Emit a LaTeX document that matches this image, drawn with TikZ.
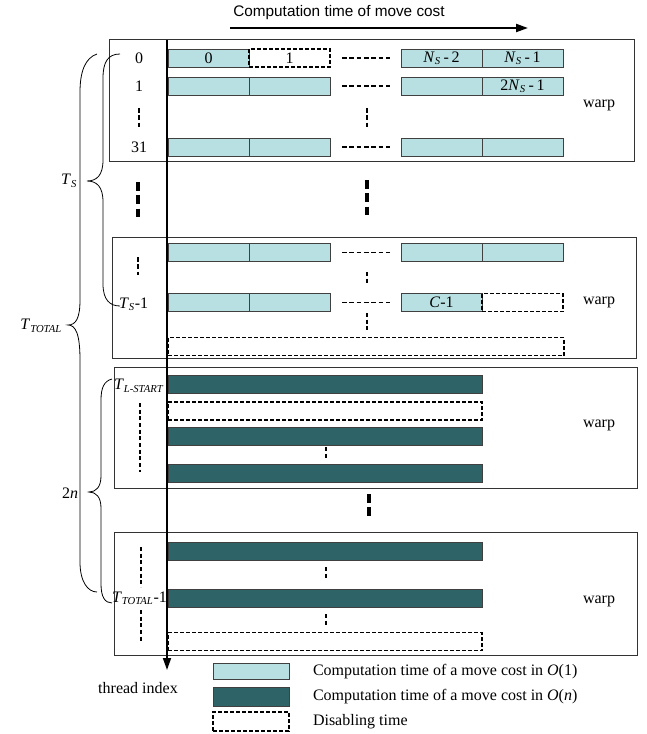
\documentclass[tikz,border=0pt]{standalone}
\usepackage{fontspec}
\setmainfont{Liberation Serif}
\newfontfamily\arialfont{Liberation Sans}
\usetikzlibrary{arrows.meta}
\definecolor{litecell}{RGB}{184,224,226}
\definecolor{darkcell}{RGB}{46,100,104}
\newcommand{\Tsub}[1]{\textit{T}\textsubscript{\textit{#1}}}
\newcommand{\Nsub}{\textit{N}\textsubscript{\textit{S}}}

\begin{document}
\begin{tikzpicture}[x=0.75pt, y=-0.75pt,
    every node/.style={font=\fontsize{12}{14}\selectfont, inner sep=0pt, outer sep=0pt},
    cell/.style={draw=black!75, line width=0.6pt, minimum width=60.75pt,
                 minimum height=13.5pt, anchor=west},
    lite/.style={cell, fill=litecell},
    idle/.style={cell, draw=black, line width=1.2pt, dash pattern=on 3pt off 1.5pt},
    heavy/.style={cell, fill=darkcell, minimum width=235.5pt},
    warpbox/.style={draw=black!80, line width=0.7pt},
    lbl/.style={anchor=west},
    gap/.style={line width=1.4pt, dash pattern=on 3.5pt off 2pt},
    biggap/.style={line width=2.4pt, dash pattern=on 6.5pt off 3.5pt},
    thingap/.style={line width=1pt, dash pattern=on 3pt off 2pt},
    brace/.style={line width=0.6pt},
    >={Triangle[length=9pt, width=6pt]}
]
  \useasboundingbox (0,0) rectangle (646,734);

  % time direction
  \node[font=\arialfont\fontsize{11.5}{14}\selectfont] (title) at (339,13) {Computation time of move cost};
  \coordinate (t0) at (230,28);
  \coordinate (t1) at (528,28);
  \draw[line width=1.6pt, ->] (t0) -- (t1);

  % first warp
  \draw[warpbox] (109,39) rectangle (634,161);
  \node[lite] (r0a) at (168,58) {0};
  \node[idle] (r0b) at (249,58) {1};
  \node[lite] (r0c) at (401,58) {\Nsub\,-\,2};
  \node[lite] (r0d) at (482,58) {\Nsub\,-\,1};
  \node[lite] (r1a) at (168,86) {};
  \node[lite] (r1b) at (249,86) {};
  \node[lite] (r1c) at (401,86) {};
  \node[lite] (r1d) at (482,86) {2\Nsub\,-\,1};
  \node[lite] (r2a) at (168,147) {};
  \node[lite] (r2b) at (249,147) {};
  \node[lite] (r2c) at (401,147) {};
  \node[lite] (r2d) at (482,147) {};
  \foreach \r in {r0,r1,r2}
    \draw[gap] ([xshift=9pt]\r b.east) -- ([xshift=-8pt]\r c.west);
  \draw[gap] (139,108) -- (139,128);
  \draw[gap] (367,108) -- (367,128);
  \node (n0) at (139,58) {0};
  \node (n1) at (139,86) {1};
  \node (n31) at (139,147) {31};
  \node (w1) at (599,105) {warp};

  \draw[biggap] (138,182) -- (138,218);
  \draw[biggap] (367,180) -- (367,217);

  % last warp of the short moves
  \draw[warpbox] (112,237) rectangle (636,358);
  \node[lite] (r3a) at (168,252.5) {};
  \node[lite] (r3b) at (249,252.5) {};
  \node[lite] (r3c) at (401,252.5) {};
  \node[lite] (r3d) at (482,252.5) {};
  \node[lite] (r4a) at (168,302.5) {};
  \node[lite] (r4b) at (249,302.5) {};
  \node[lite] (r4c) at (401,302.5) {\textit{C}-1};
  \node[idle] (r4d) at (482,302.5) {};
  \node[idle, minimum width=297pt] (r5) at (168,346.5) {};
  \foreach \r in {r3,r4}
    \draw[gap] ([xshift=9pt]\r b.east) -- ([xshift=-8pt]\r c.west);
  \draw[gap] (138,257) -- (138,275);
  \draw[thingap] (367,272) -- (367,285);
  \draw[thingap] (367,313) -- (367,332);
  \node[lbl] (ts1) at (119,304) {\Tsub{S}-1};
  \node (w2) at (599,302) {warp};

  % first warp of the long moves
  \draw[warpbox] (114,367) rectangle (637,488);
  \node[heavy] (l0) at (168,384.5) {};
  \node[idle, minimum width=235.5pt] (l1) at (168,411) {};
  \node[heavy] (l2) at (168,436.5) {};
  \node[heavy] (l3) at (168,473.5) {};
  \draw[thingap] (140,403) -- (140,472);
  \draw[thingap] (326,447) -- (326,460);
  \node[lbl] (tls) at (114,386) {\Tsub{L-START}};
  \node (w3) at (599,425) {warp};

  \draw[biggap] (369,494) -- (369,517);

  % last warp
  \draw[warpbox] (114,532) rectangle (637,655);
  \node[heavy] (l4) at (168,551) {};
  \node[heavy] (l5) at (168,598.5) {};
  \node[idle, minimum width=235.5pt] (l6) at (168,641.5) {};
  \draw[thingap] (141,547) -- (141,587);
  \draw[thingap] (141,610) -- (141,643);
  \draw[thingap] (326,567) -- (326,579);
  \draw[thingap] (326,614) -- (326,626);
  \node[lbl] (ttm) at (112,598) {\Tsub{TOTAL}-1};
  \node (w4) at (599,601) {warp};

  % braces
  \node[anchor=east] (ts) at (77,181) {\Tsub{S}};
  \node[anchor=east] (ttot) at (62,326) {\Tsub{TOTAL}};
  \node[anchor=east] (two) at (78,493) {2\textit{n}};
  \draw[brace] (120,54) .. controls (108,54) and (103,62) .. (103,78) -- (103,160)
    .. controls (103,175) and (97,181) .. (87,181)
    .. controls (97,181) and (103,187) .. (103,202) -- (103,284)
    .. controls (103,300) and (110,306) .. (120,306);
  \draw[brace] (97,54) .. controls (85,58) and (80,72) .. (80,92) -- (80,300)
    .. controls (80,318) and (76,325) .. (68,325)
    .. controls (76,325) and (80,335) .. (80,360) -- (80,562)
    .. controls (80,582) and (88,592) .. (97,592);
  \draw[brace] (112,379) .. controls (104,381) and (101,388) .. (101,400) -- (101,476)
    .. controls (101,487) and (96,492) .. (89,492)
    .. controls (96,492) and (101,497) .. (101,508) -- (101,584)
    .. controls (101,597) and (105,603) .. (112,603);

  % thread axis
  \coordinate (ax0) at (167,40);
  \coordinate (ax1) at (167,670);
  \draw[line width=1.3pt, ->] (ax0) -- (ax1);
  \node (thr) at (138,688) {thread index};

  % legend
  \node[lite, minimum width=57pt, minimum height=12pt] (k1) at (213,671) {};
  \node[heavy, minimum width=57pt, minimum height=14.25pt] (k2) at (213,696.5) {};
  \node[idle, minimum width=57pt, minimum height=14.25pt] (k3) at (213,721.5) {};
  \node[lbl] (k1t) at (313,672) {Computation time of a move cost in \textit{O}(1)};
  \node[lbl] (k2t) at (313,697) {Computation time of a move cost in \textit{O}(\textit{n})};
  \node[lbl] (k3t) at (313,722) {Disabling time};
\end{tikzpicture}
\end{document}
